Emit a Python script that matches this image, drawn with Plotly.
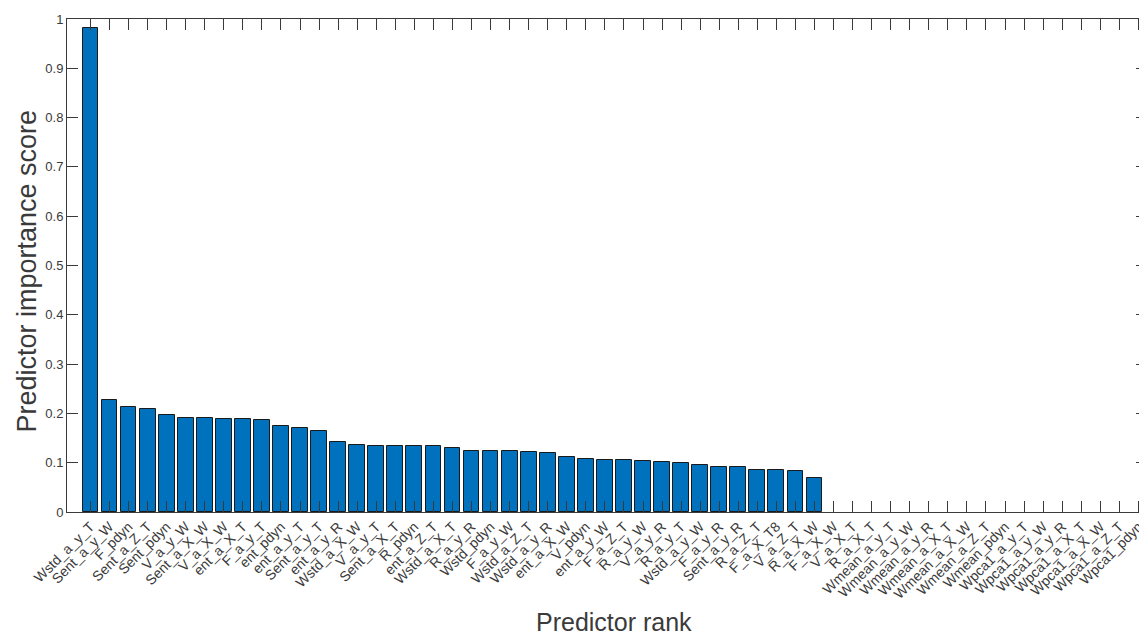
import plotly.graph_objects as go

predictors = [
    "Wstd_a_y_T", "Sent_a_y_W", "F_pdyn", "Sent_a_Z_T", "Sent_pdyn", "V_a_y_W",
    "Sent_a_X_W", "V_a_X_W", "ent_a_X_T", "F_a_y_T", "ent_pdyn", "ent_a_y_T",
    "Sent_a_y_T", "ent_a_y_R", "Wstd_a_X_W", "V_a_y_T", "Sent_a_X_T", "R_pdyn",
    "ent_a_Z_T", "Wstd_a_X_T", "R_a_y_R", "Wstd_pdyn", "F_a_y_W", "Wstd_a_Z_T",
    "Wstd_a_y_R", "ent_a_X_W", "V_pdyn", "ent_a_y_W", "F_a_Z_T", "R_a_y_W",
    "V_a_y_R", "R_a_y_T", "Wstd_a_y_W", "F_a_y_R", "Sent_a_y_R", "R_a_Z_T",
    "F_a_X_T8", "V_a_Z_T", "R_a_X_W", "F_a_X_W", "V_a_X_T", "R_a_X_T",
    "Wmean_a_y_T", "Wmean_a_y_W", "Wmean_a_y_R", "Wmean_a_X_T", "Wmean_a_X_W",
    "Wmean_a_Z_T", "Wmean_pdyn", "Wpca1_a_y_T", "Wpca1_a_y_W", "Wpca1_a_y_R",
    "Wpca1_a_X_T", "Wpca1_a_X_W", "Wpca1_a_Z_T", "Wpca1_pdyn",
]

importance = [
    0.982, 0.227, 0.213, 0.209, 0.196, 0.190,
    0.190, 0.188, 0.188, 0.186, 0.174, 0.170,
    0.164, 0.141, 0.136, 0.134, 0.134, 0.133,
    0.133, 0.129, 0.123, 0.123, 0.123, 0.121,
    0.119, 0.112, 0.108, 0.106, 0.106, 0.104,
    0.102, 0.100, 0.095, 0.092, 0.092, 0.086,
    0.086, 0.083, 0.069, 0.0, 0.0, 0.0,
    0.0, 0.0, 0.0, 0.0, 0.0,
    0.0, 0.0, 0.0, 0.0, 0.0,
    0.0, 0.0, 0.0, 0.0,
]

y_ticks = [0, 0.1, 0.2, 0.3, 0.4, 0.5, 0.6, 0.7, 0.8, 0.9, 1]
y_tick_text = ["0", "0.1", "0.2", "0.3", "0.4", "0.5", "0.6", "0.7", "0.8", "0.9", "1"]

x_title = "Predictor rank"
y_title = "Predictor importance score"

axis_color = "#3a3a3a"
font_family = "Liberation Sans, Arial, sans-serif"

edge_widths = [1 if v > 0 else 0 for v in importance]

fig = go.Figure(
    go.Bar(
        x=predictors,
        y=importance,
        width=0.83,
        marker=dict(color="#0072BD", line=dict(color="#1a1a1a", width=edge_widths)),
    )
)

# page body has an 8px margin, so the figure is 8px smaller than the window
fig.update_layout(
    width=1139,
    height=627,
    margin=dict(l=59, r=0, t=11, b=123),
    plot_bgcolor="white",
    paper_bgcolor="white",
    font=dict(family=font_family, color=axis_color),
    showlegend=False,
    bargap=0,
)

fig.update_xaxes(
    type="category",
    range=[-1.23, 55.45],
    tickangle=-45,
    ticks="inside",
    ticklen=11,
    tickcolor=axis_color,
    tickfont=dict(size=14, color=axis_color),
    showline=True,
    linecolor=axis_color,
    linewidth=1,
    mirror="ticks",
    showgrid=False,
    zeroline=False,
    automargin=False,
)

fig.update_yaxes(
    range=[0, 1],
    tickvals=y_ticks,
    ticktext=y_tick_text,
    ticks="inside",
    ticklen=11,
    tickcolor=axis_color,
    tickfont=dict(size=13, color=axis_color),
    showline=True,
    linecolor=axis_color,
    linewidth=1,
    mirror="ticks",
    showgrid=False,
    zeroline=False,
    automargin=False,
)

fig.add_annotation(
    text=y_title, xref="paper", yref="paper", x=0, y=0.5,
    xanchor="center", yanchor="middle", xshift=-41, yshift=-6,
    textangle=-90, showarrow=False,
    font=dict(size=27, color=axis_color, family=font_family),
)
fig.add_annotation(
    text=x_title, xref="paper", yref="paper", x=0.5, y=0,
    xanchor="center", yanchor="middle", xshift=7, yshift=-110,
    showarrow=False,
    font=dict(size=25, color=axis_color, family=font_family),
)

fig.write_html("out.html")
